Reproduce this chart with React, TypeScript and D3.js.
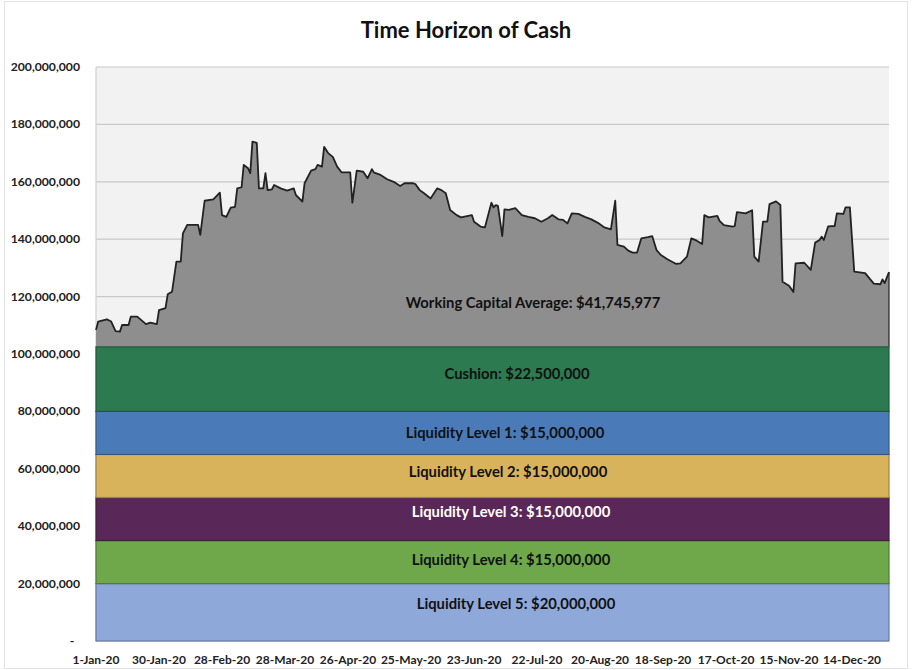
import React from "react";
import * as d3 from "d3";

// ---- data (cash balance in $ millions, by day offset from 1-Jan-2020) ----
const DAYS = [0, 1, 5, 7, 9, 11, 12, 15, 16, 19, 23, 25, 28, 29, 32, 33, 35, 37, 39, 40, 42, 47, 48, 50, 54, 57, 58, 60, 62, 64, 65, 67, 68, 70, 71, 72, 74, 75, 77, 78, 79, 81, 82, 85, 88, 91, 92, 95, 96, 99, 101, 102, 104, 105, 107, 109, 111, 113, 117, 118, 120, 123, 125, 127, 128, 131, 134, 137, 140, 142, 146, 147, 149, 151, 154, 157, 159, 161, 163, 166, 168, 173, 174, 177, 179, 182, 183, 184, 185, 187, 188, 190, 193, 196, 199, 202, 205, 208, 210, 213, 215, 217, 219, 222, 225, 228, 231, 234, 237, 239, 240, 243, 245, 247, 249, 251, 254, 256, 258, 260, 263, 266, 267, 269, 272, 274, 276, 279, 280, 282, 286, 287, 289, 293, 294, 295, 299, 302, 303, 305, 307, 309, 310, 313, 315, 316, 319, 321, 322, 326, 329, 331, 333, 334, 335, 337, 340, 341, 344, 345, 347, 349, 354, 358, 361, 362, 363, 365];
const CASH = [108.4, 111.3, 112.1, 111.3, 108.0, 107.8, 110.1, 110.1, 113.0, 113.0, 110.4, 110.9, 110.4, 115.3, 116.0, 120.8, 121.7, 132.2, 132.2, 142.0, 145.0, 145.0, 141.5, 153.4, 153.9, 156.2, 148.4, 147.8, 151.0, 151.3, 157.7, 158.1, 165.9, 164.7, 163.0, 174.0, 173.6, 157.7, 157.7, 163.0, 157.1, 157.4, 158.9, 157.7, 156.9, 157.7, 155.4, 153.1, 159.5, 163.9, 164.4, 165.9, 165.3, 172.2, 169.9, 168.7, 165.3, 163.3, 163.3, 152.7, 163.9, 163.5, 161.2, 164.4, 163.2, 162.4, 160.9, 160.0, 158.5, 159.5, 159.5, 159.2, 157.1, 156.0, 154.2, 157.7, 157.1, 156.0, 150.2, 148.4, 147.6, 148.4, 146.1, 144.4, 144.1, 152.7, 151.1, 151.9, 151.6, 141.1, 150.4, 150.2, 150.8, 148.4, 147.8, 147.3, 146.1, 147.3, 148.4, 146.9, 146.7, 145.5, 149.0, 148.8, 147.8, 146.9, 145.7, 144.1, 143.4, 153.4, 138.0, 137.4, 136.0, 135.3, 135.3, 140.3, 140.7, 141.1, 136.2, 134.5, 133.0, 131.8, 131.4, 131.6, 133.9, 140.3, 139.7, 138.3, 148.4, 147.6, 148.1, 146.4, 144.9, 144.4, 144.6, 149.4, 149.0, 150.1, 133.9, 132.2, 146.1, 146.1, 152.2, 153.2, 151.9, 125.2, 123.8, 121.6, 131.6, 131.8, 129.3, 138.8, 139.7, 140.9, 139.7, 144.5, 144.6, 149.0, 148.8, 151.1, 151.1, 128.7, 128.2, 124.5, 124.3, 126.0, 124.7, 128.5];

// stacked liquidity bands, bottom to top ($ millions)
const BAND_NAMES = ["Liquidity Level 5", "Liquidity Level 4", "Liquidity Level 3", "Liquidity Level 2", "Liquidity Level 1", "Cushion"];
const BAND_VALUES = [20, 15, 15, 15, 15, 22.5];
const BAND_COLORS = ["#8FA8DA", "#6EA84A", "#5A2858", "#D8B35C", "#4A7BB8", "#2C7A50"];
const BAND_TEXT = ["#111", "#111", "#fff", "#111", "#111", "#111"];
const WORKING_CAPITAL_AVG = 41745977;

const Y_TICKS = [0, 20, 40, 60, 80, 100, 120, 140, 160, 180, 200];
const X_TICK_DAYS = [0, 29, 58, 87, 116, 145, 174, 203, 232, 261, 290, 319, 348];
const TITLE = "Time Horizon of Cash";

const W = 915, H = 670;
const M = { left: 96, right: 889, top: 67, bottom: 641 };
const FONT = "Lato, 'Open Sans', sans-serif";

export default function App() {
  const start = new Date(2020, 0, 1);
  const dateOf = (d: number) => d3.timeDay.offset(start, d);
  const x = d3.scaleTime().domain([start, dateOf(365)]).range([M.left, M.right]);
  const y = d3.scaleLinear().domain([0, 200]).range([M.bottom, M.top]);

  const cum: number[] = [];
  BAND_VALUES.reduce((acc, v) => { cum.push(acc); return acc + v; }, 0);
  const bandTop = d3.sum(BAND_VALUES);

  const pts = DAYS.map((d, i) => ({ date: dateOf(d), v: CASH[i] }));
  const area = d3.area<{ date: Date; v: number }>()
    .x((p) => x(p.date)).y0(y(bandTop)).y1((p) => y(p.v));
  const line = d3.line<{ date: Date; v: number }>()
    .x((p) => x(p.date)).y((p) => y(p.v));

  const fmtY = d3.format(",");
  const fmtX = d3.timeFormat("%-d-%b-%y");
  const fmtMoney = (v: number) => "$" + d3.format(",")(v);

  // label placement (styling)
  const labelX = [516, 511, 511, 508, 505, 517];
  const labelDy = [-8.5, -2.5, -7, -4, 0, -5];

  return (
    <svg width={W} height={H} style={{ position: "absolute", left: 0, top: 0, background: "#fff" }} fontFamily={FONT}>
      <rect x={4.5} y={1.5} width={903} height={667} fill="#fff" stroke="#e2e2e2" />
      <text x={466} y={38} textAnchor="middle" fontSize={22} fontWeight={700} fill="#111">{TITLE}</text>

      {/* plot background */}
      <rect x={M.left} y={M.top} width={M.right - M.left} height={M.bottom - M.top} fill="#F2F2F2" />
      {Y_TICKS.map((t) => (
        <line key={t} x1={M.left} x2={M.right} y1={y(t)} y2={y(t)} stroke="#c9c9c9" strokeWidth={1.2} />
      ))}
      <line x1={M.left} x2={M.left} y1={M.top} y2={M.bottom} stroke="#c9c9c9" />

      {/* gray working capital area */}
      <path d={area(pts) || ""} fill="#8E8E8E" />
      <path d={line(pts) || ""} fill="none" stroke="#222" strokeWidth={1.8} strokeLinejoin="round" />
      <line x1={M.right} x2={M.right} y1={y(CASH[CASH.length - 1])} y2={y(bandTop)} stroke="#222" strokeWidth={1.2} />

      {/* liquidity bands */}
      {BAND_VALUES.map((v, i) => (
        <rect key={i} x={M.left} width={M.right - M.left} y={y(cum[i] + v)} height={y(cum[i]) - y(cum[i] + v)}
          fill={BAND_COLORS[i]} stroke={d3.color(BAND_COLORS[i])!.darker(0.9).toString()} strokeWidth={1.2} />
      ))}
      {BAND_VALUES.map((v, i) => (
        <text key={"t" + i} x={labelX[i]} y={(y(cum[i]) + y(cum[i] + v)) / 2 + labelDy[i] + 5} textAnchor="middle"
          fontSize={14.8} fontWeight={700} fill={BAND_TEXT[i]}>
          {`${BAND_NAMES[i]}: ${fmtMoney(v * 1e6)}`}
        </text>
      ))}
      <text x={533} y={308} textAnchor="middle" fontSize={14.8} fontWeight={700} fill="#111">
        {`Working Capital Average: ${fmtMoney(WORKING_CAPITAL_AVG)}`}
      </text>

      {/* y axis labels */}
      {Y_TICKS.map((t) => (
        <text key={"y" + t} x={t === 0 ? 72 : 80} y={y(t) + 4} textAnchor={t === 0 ? "middle" : "end"}
          fontSize={12.2} fontWeight={700} fill="#222">
          {t === 0 ? "-" : fmtY(t * 1e6)}
        </text>
      ))}
      {/* x axis labels */}
      {X_TICK_DAYS.map((d) => (
        <text key={"x" + d} x={x(dateOf(d))} y={664} textAnchor="middle" fontSize={12} fontWeight={700} fill="#222">
          {fmtX(dateOf(d))}
        </text>
      ))}
    </svg>
  );
}
